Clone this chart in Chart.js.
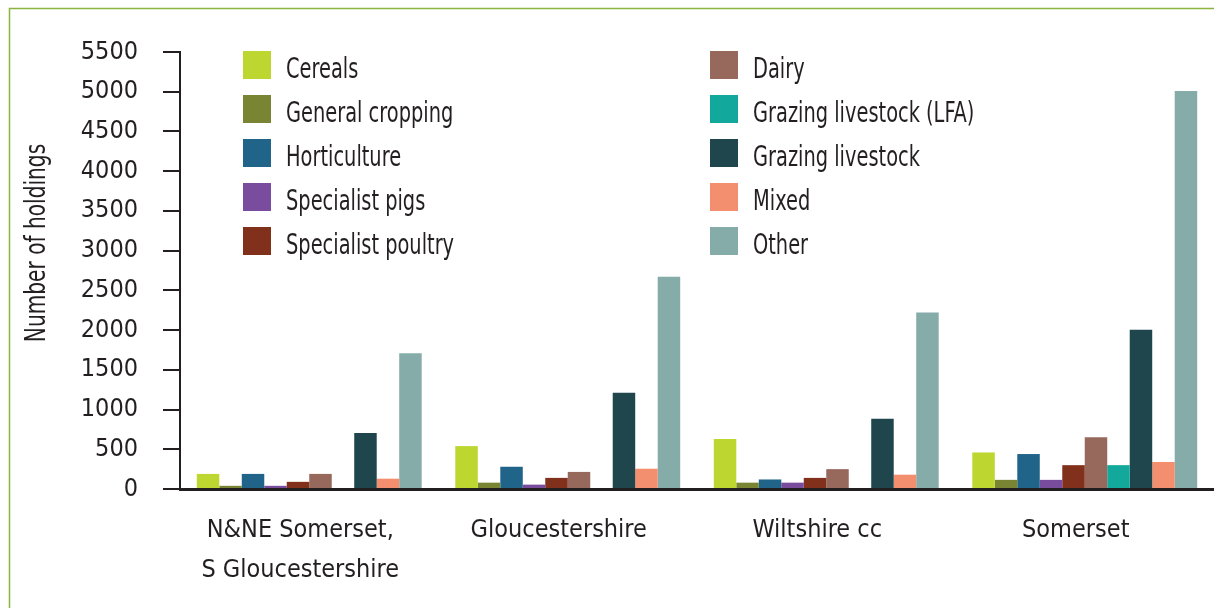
<!DOCTYPE html>
<html>
<head>
<meta charset="utf-8">
<script src="https://cdn.jsdelivr.net/npm/chart.js@4.4.1/dist/chart.umd.min.js"></script>
<style>
    html, body { margin: 0; padding: 0; background: #fff; }
</style>
</head>
<body>
<canvas id="holdingsChart" width="1214" height="608"></canvas>
<script>
// Categorías (regiones)
const regions = [['N&NE Somerset,', 'S Gloucestershire'], 'Gloucestershire', 'Wiltshire cc', 'Somerset'];

// Series de valores (número de explotaciones)
const cereals = [190, 540, 630, 460];
const generalCropping = [40, 80, 80, 115];
const horticulture = [190, 280, 120, 440];
const specialistPigs = [40, 55, 80, 115];
const specialistPoultry = [90, 140, 140, 300];
const dairy = [190, 215, 250, 650];
const grazingLFA = [0, 0, 0, 300];
const grazingLivestock = [705, 1210, 885, 2005];
const mixed = [130, 255, 180, 340];
const other = [1710, 2670, 2220, 5010];

// Marcas del eje Y
const yTicks = [0, 500, 1000, 1500, 2000, 2500, 3000, 3500, 4000, 4500, 5000, 5500];

const FONT = '"Liberation Sans Narrow", "DejaVu Sans Condensed", "Arial Narrow", sans-serif';
const INK = '#231f20';

const series = [
    { label: 'Cereals', data: cereals, color: '#bed630' },
    { label: 'General cropping', data: generalCropping, color: '#7a8534' },
    { label: 'Horticulture', data: horticulture, color: '#21648a' },
    { label: 'Specialist pigs', data: specialistPigs, color: '#7a4c9e' },
    { label: 'Specialist poultry', data: specialistPoultry, color: '#81301c' },
    { label: 'Dairy', data: dairy, color: '#97685c' },
    { label: 'Grazing livestock (LFA)', data: grazingLFA, color: '#12a89c' },
    { label: 'Grazing livestock', data: grazingLivestock, color: '#1f464d' },
    { label: 'Mixed', data: mixed, color: '#f38e6e' },
    { label: 'Other', data: other, color: '#85aca9' }
];

// Marco verde, leyenda en dos columnas y título del eje Y
const decorations = {
    id: 'decorations',
    beforeDraw(chart) {
        const ctx = chart.ctx;
        ctx.save();
        ctx.strokeStyle = '#8ab43e';
        ctx.lineWidth = 1.5;
        ctx.beginPath();
        ctx.moveTo(9.5, 608);
        ctx.lineTo(9.5, 8.5);
        ctx.lineTo(1214, 8.5);
        ctx.stroke();
        ctx.restore();
    },
    afterDraw(chart) {
        const ctx = chart.ctx;
        ctx.save();
        ctx.font = '28px ' + FONT;
        ctx.textBaseline = 'alphabetic';
        chart.data.datasets.forEach((ds, i) => {
            const col = i < 5 ? 0 : 1;
            const row = i % 5;
            const sx = col === 0 ? 243 : 710;
            const cy = 65 + row * 44;
            ctx.fillStyle = ds.backgroundColor;
            ctx.fillRect(sx, cy - 14, 28, 28);
            ctx.fillStyle = INK;
            ctx.save();
            ctx.translate(sx + 43, cy + 13);
            ctx.scale(0.77, 1);
            ctx.fillText(ds.label, 0, 0);
            ctx.restore();
        });
        // Título del eje Y
        ctx.fillStyle = INK;
        ctx.translate(45, 243);
        ctx.rotate(-Math.PI / 2);
        ctx.scale(0.8, 1);
        ctx.textAlign = 'center';
        ctx.fillText('Number of holdings', 0, 0);
        ctx.restore();
    }
};

new Chart(document.getElementById('holdingsChart'), {
    type: 'bar',
    data: {
        labels: regions,
        datasets: series.map(s => ({
            label: s.label,
            data: s.data,
            backgroundColor: s.color,
            borderWidth: 0
        }))
    },
    options: {
        responsive: false,
        animation: false,
        layout: { padding: { top: 52, right: 0, bottom: 0, left: 0 } },
        datasets: { bar: { categoryPercentage: 0.87, barPercentage: 1 } },
        plugins: {
            legend: { display: false },
            tooltip: { enabled: false }
        },
        scales: {
            x: {
                grid: { display: false, drawTicks: false },
                border: { display: true, color: INK, width: 3 },
                ticks: {
                    color: INK,
                    font: { family: FONT, size: 25, lineHeight: 40 / 25 },
                    padding: 21,
                    labelOffset: -9,
                    maxRotation: 0,
                    autoSkip: false
                },
                afterFit(scale) { scale.height = 119; }
            },
            y: {
                min: 0,
                max: 5500,
                afterBuildTicks(scale) { scale.ticks = yTicks.map(v => ({ value: v })); },
                ticks: {
                    color: INK,
                    font: { family: FONT, size: 25 },
                    padding: 25,
                    callback: value => String(value)
                },
                grid: { drawOnChartArea: false, drawTicks: true, tickLength: 17, color: INK, lineWidth: 2 },
                border: { color: INK, width: 2 },
                afterFit(scale) { scale.width = 180; }
            }
        }
    },
    plugins: [decorations]
});
</script>
</body>
</html>
